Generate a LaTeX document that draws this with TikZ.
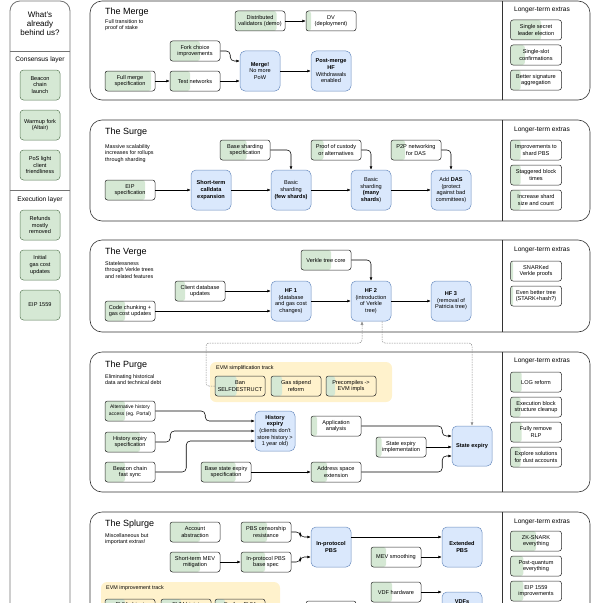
\documentclass[tikz,border=0pt]{standalone}
\usepackage{fontspec}
\setmainfont{Liberation Sans}
\usetikzlibrary{arrows.meta,calc}
\definecolor{donegreen}{HTML}{D5E8D4}
\definecolor{pastedge}{HTML}{5F7F5C}
\definecolor{hfblue}{HTML}{DAE8FC}
\definecolor{hfedge}{HTML}{6C8EBF}
\definecolor{trackyellow}{HTML}{FFF2CC}
\definecolor{framegray}{HTML}{333333}
\tikzstyle{task}=[rectangle, draw=black!85, line width=.5pt, rounded corners=2.5pt, minimum width=50pt, minimum height=20pt, inner sep=.5pt, align=center, font=\fontsize{5.6}{6.6}\selectfont]
\tikzstyle{fork}=[rectangle, draw=hfedge, fill=hfblue, line width=.5pt, rounded corners=5pt, minimum width=40pt, minimum height=40pt, inner sep=.5pt, align=center, font=\fontsize{5.6}{6.6}\selectfont]
\tikzstyle{past}=[task, draw=pastedge, fill=donegreen, minimum width=40pt, minimum height=30pt, rounded corners=3.5pt]
\tikzstyle{section}=[draw=framegray, line width=.6pt, rounded corners=12pt]
\tikzstyle{track}=[fill=trackyellow, rounded corners=6pt]
\tikzstyle{title}=[anchor=west, inner sep=0pt, font=\fontsize{9}{10}\selectfont]
\tikzstyle{blurb}=[anchor=north west, inner sep=0pt, align=left, font=\fontsize{5.4}{6.6}\selectfont]
\tikzstyle{extras}=[inner sep=0pt, font=\fontsize{6.6}{8}\selectfont]
\tikzstyle{link}=[->, line width=.55pt, rounded corners=4pt]
\tikzstyle{dep}=[->, draw=black!45, line width=.5pt, dash pattern=on 1.5pt off 1pt, rounded corners=3pt]
\tikzset{done/.style={path picture={\fill[donegreen] (path picture bounding box.south west) rectangle ($(path picture bounding box.north west)!#1!(path picture bounding box.north east)$);}}}
\newcommand{\task}[1]{\node[task,done=#1]}
\newcommand{\extra}[1]{\node[task,minimum width=51pt,done=#1]}
\newcommand{\fork}{\node[fork]}
\newcommand{\past}{\node[past]}

\begin{document}
\begin{tikzpicture}[x=1pt, y=-1pt
    ,>={Latex[length=3.5pt,width=3pt]}
    ,every edge/.style={draw, ->, line width=.55pt}
]
\useasboundingbox (0,0) rectangle (604,602);

% what is already behind us
\draw[draw=black!55, line width=.8pt, rounded corners=10pt] (10,640) -- (10,1) -- (70,1) -- (70,640);
\draw[draw=black!55, line width=.6pt] (10,51) -- (70,51) (10,190) -- (70,190);
\node[align=center, font=\fontsize{8}{9}\selectfont] (behind) at (40,24) {What's\\already\\behind us?};
\node[extras] (consensus) at (40,60) {Consensus layer};
\past (beacon) at (40,85) {Beacon\\chain\\launch};
\past (altair) at (40,125) {Warmup fork\\(Altair)};
\past (light) at (40,165) {PoS light\\client\\friendliness};
\node[extras] (execution) at (40,200) {Execution layer};
\past (refunds) at (40,225) {Refunds\\mostly\\removed};
\past (gascost) at (40,265) {Initial\\gas cost\\updates};
\past (eip1559) at (40,305) {EIP 1559};

% the merge
\draw[section] (90,1) rectangle (590,100);
\draw[draw=framegray, line width=.6pt] (502,1) -- (502,100);
\node[title] (mergetitle) at (105,12) {The Merge};
\node[blurb] (mergeblurb) at (105,19) {Full transition to\\proof of stake};
\task{.83} (dvdemo) at (260,21) {Distributed\\validators (demo)};
\task{.1} (dvdeploy) at (331,21) {DV\\(deployment)};
\task{.6} (forkchoice) at (195,51) {Fork choice\\improvements};
\task{.92} (mergespec) at (130,81) {Full merge\\specification};
\task{.4} (testnets) at (195,81) {Test networks};
\fork (merge) at (260,71) {\textbf{Merge!}\\No more\\PoW};
\fork (postmerge) at (331,71) {\textbf{Post-merge}\\\textbf{HF}\\Withdrawals\\enabled};
\node[extras] (mergeextras) at (542,10) {Longer-term extras};
\extra{.6} (ssle) at (536,30) {Single secret\\leader election};
\extra{.28} (ssf) at (536,55) {Single-slot\\confirmations};
\extra{.2} (sigagg) at (536,80) {Better signature\\aggregation};
\path
(dvdemo) edge (dvdeploy)
(mergespec) edge (testnets)
(testnets.east) edge (testnets.east -| merge.west)
(merge) edge (postmerge)
;
\draw[link] (forkchoice.east) -- ++(10,0) |- ([yshift=10pt]merge.west);

% the surge
\draw[section] (90,120) rectangle (590,221);
\draw[draw=framegray, line width=.6pt] (502,120) -- (502,221);
\node[title] (surgetitle) at (105,132) {The Surge};
\node[blurb] (surgeblurb) at (105,144) {Massive scalability\\increases for rollups\\through sharding};
\task{.53} (shardspec) at (245,150) {Base sharding\\specification};
\task{.25} (custody) at (336,150) {Proof of custody\\or alternatives};
\task{.28} (p2pdas) at (416,150) {P2P networking\\for DAS};
\task{.8} (eipspec) at (130,190) {EIP\\specification};
\fork (calldata) at (211,190) {\textbf{Short-term}\\\textbf{calldata}\\\textbf{expansion}};
\fork (fewshards) at (291,190) {Basic\\sharding\\\textbf{(few shards)}};
\fork (manyshards) at (371,190) {Basic\\sharding\\\textbf{(many}\\\textbf{shards})};
\fork (adddas) at (451,190) {Add \textbf{DAS}\\(protect\\against bad\\committees)};
\node[extras] (surgeextras) at (542,130) {Longer-term extras};
\extra{.2} (shardpbs) at (536,150) {Improvements to\\shard PBS};
\extra{.2} (staggered) at (536,175) {Staggered block\\times};
\extra{.2} (shardcount) at (536,200) {Increase shard\\size and count};
\path
(eipspec) edge (calldata)
(calldata) edge (fewshards)
(fewshards) edge (manyshards)
(manyshards) edge (adddas)
;
\draw[link] (shardspec.east) -| (fewshards.north);
\draw[link] (custody.east) -| (manyshards.north);
\draw[link] (p2pdas.east) -| (adddas.north);

% the verge
\draw[section] (90,240) rectangle (590,332);
\draw[draw=framegray, line width=.6pt] (502,240) -- (502,332);
\node[title] (vergetitle) at (105,252) {The Verge};
\node[blurb] (vergeblurb) at (105,261) {Statelessness\\through Verkle trees\\and related features};
\task{.6} (verklecore) at (326,260) {Verkle tree core};
\task{.2} (clientdb) at (200,291) {Client database\\updates};
\task{.4} (chunking) at (130,311) {Code chunking +\\gas cost updates};
\fork (hf1) at (291,301) {\textbf{HF 1}\\(database\\and gas cost\\changes)};
\fork (hf2) at (371,301) {\textbf{HF 2}\\(introduction\\of Verkle\\tree)};
\fork (hf3) at (451,301) {\textbf{HF 3}\\(removal of\\Patricia tree)};
\node[extras] (vergeextras) at (542,250) {Longer-term extras};
\extra{.05} (snarked) at (536,271) {SNARKed\\Verkle proofs};
\extra{.05} (bettertree) at (536,296) {Even better tree\\(STARK+hash?)};
\path
(clientdb.east) edge (clientdb.east -| hf1.west)
(chunking.east) edge (chunking.east -| hf1.west)
(hf1) edge (hf2)
(hf2) edge (hf3)
;
\draw[link] (verklecore.east) -| (hf2.north);

% the purge
\draw[section] (90,352) rectangle (590,492);
\draw[draw=framegray, line width=.6pt] (502,352) -- (502,492);
\node[title] (purgetitle) at (105,365) {The Purge};
\node[blurb] (purgeblurb) at (105,374) {Eliminating historical\\data and technical debt};
\fill[track] (210,362) rectangle (392,402);
\node[blurb, anchor=west] (simpletrack) at (216,368) {EVM simplification track};
\task{.43} (selfdestruct) at (240,386) {Ban\\SELFDESTRUCT};
\task{.22} (stipend) at (296,386) {Gas stipend\\reform};
\task{.18} (precompiles) at (351,386) {Precompiles ->\\EVM impls};
\task{.4} (althistory) at (130,411) {\fontsize{5}{6}\selectfont Alternative history\\\fontsize{5}{6}\selectfont access (eg. Portal)};
\task{.7} (histspec) at (130,442) {History expiry\\specification};
\task{.4} (fastsync) at (130,472) {Beacon chain\\fast sync};
\fork (histexpiry) at (275,431) {\textbf{History}\\\textbf{expiry}\\(clients don't\\store history >\\1 year old)};
\task{.12} (appanalysis) at (336,426) {Application\\analysis};
\task{.11} (stateimpl) at (401,447) {State expiry\\implementation};
\task{.69} (statespec) at (226,472) {Base state expiry\\specification};
\task{.32} (addrspace) at (336,472) {Address space\\extension};
\fork (stateexpiry) at (472,446) {\textbf{State expiry}};
\node[extras] (purgeextras) at (542,361) {Longer-term extras};
\extra{.22} (logreform) at (536,382) {LOG reform};
\extra{.2} (blockcleanup) at (536,407) {Execution block\\structure cleanup};
\extra{.22} (rlp) at (536,432) {Fully remove\\RLP};
\extra{.2} (dust) at (536,457) {Explore solutions\\for dust accounts};
\path
(statespec) edge (addrspace)
(stateimpl.east) edge (stateimpl.east -| stateexpiry.west)
;
\draw[link] (althistory.east) -- ++(50,0) |- ([yshift=10pt]histexpiry.west);
\draw[link] (histspec.east) -- ++(15,0) |- (histexpiry.west);
\draw[link] (fastsync.east) -- ++(31,0) |- ([yshift=-10pt]histexpiry.west);
\draw[link] (appanalysis.east) -- ++(81,0) |- ([yshift=10pt]stateexpiry.west);
\draw[link] (addrspace.east) -- ++(81,0) |- ([yshift=-10pt]stateexpiry.west);

% dotted dependencies of the simplification track
\coordinate (detour) at (206,343);
\draw[dep] (selfdestruct.west) -| (detour) -| ([xshift=-9pt]hf2.south);
\draw[dep] ([xshift=11pt]hf2.south) |- (detour -| stateexpiry.north) -- (stateexpiry.north);

% the splurge
\draw[section] (90,512) rectangle (590,660);
\draw[draw=framegray, line width=.6pt] (502,512) -- (502,660);
\node[title] (splurgetitle) at (105,524) {The Splurge};
\node[blurb] (splurgeblurb) at (105,533) {Miscellaneous but\\important extras!};
\task{.6} (aa) at (195,532) {Account\\abstraction};
\task{.52} (pbscensor) at (266,532) {PBS censorship\\resistance};
\task{.6} (mevmitig) at (195,562) {Short-term MEV\\mitigation};
\task{.48} (pbsbase) at (266,562) {In-protocol PBS\\base spec};
\fork (epbs) at (331,547) {\textbf{In-protocol}\\\textbf{PBS}};
\task{.3} (mevsmooth) at (396,557) {MEV smoothing};
\fork (extpbs) at (462,547) {\textbf{Extended}\\\textbf{PBS}};
\fill[track] (101,582) rectangle (280,660);
\node[blurb, anchor=west] (evmtrack) at (106,588) {EVM improvement track};
\task{.4} (eof) at (130,609) {EVM object\\\strut};
\task{.4} (bigint) at (186,609) {EVM bigint\\\strut};
\task{.2} (furtherevm) at (240,609) {Further EVM\\\strut};
\task{0} (unseen) at (331,611) {};
\task{.42} (vdfhw) at (396,592) {VDF hardware};
\fork (vdfs) at (462,612) {\textbf{VDFs}\\\strut\\\strut\\\strut};
\node[extras] (splurgeextras) at (542,522) {Longer-term extras};
\extra{.5} (zkevery) at (536,541) {ZK-SNARK\\everything};
\extra{.25} (pq) at (536,566) {Post-quantum\\everything};
\extra{.25} (eipimprove) at (536,591) {EIP 1559\\improvements};
\path
(mevmitig) edge (pbsbase)
([yshift=10pt]epbs.east) edge ([yshift=10pt]extpbs.west)
(mevsmooth.east) edge (mevsmooth.east -| extpbs.west)
(vdfhw.east) edge (vdfhw.east -| vdfs.west)
;
\draw[link] (pbscensor.east) -- ++(9,0) |- ([yshift=10pt]epbs.west);
\draw[link] (pbsbase.east) -- ++(9,0) |- ([yshift=-10pt]epbs.west);
\end{tikzpicture}
\end{document}
